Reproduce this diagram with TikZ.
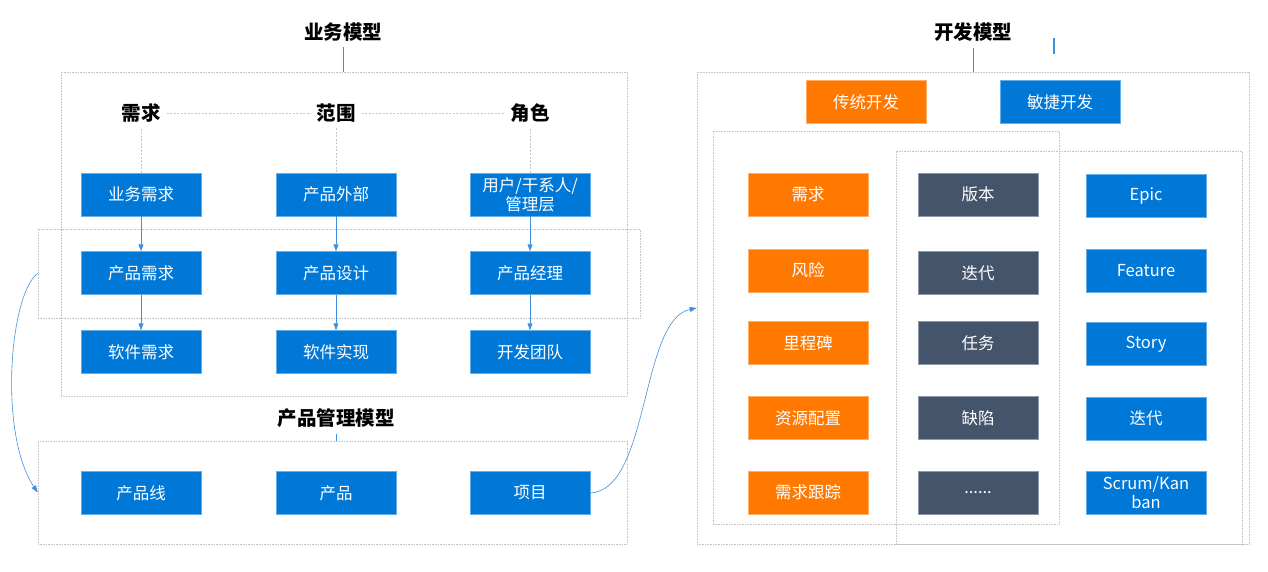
\documentclass[tikz,border=0pt]{standalone}
\usepackage{fontspec}
\setmainfont{Noto Sans CJK SC}
\usetikzlibrary{arrows.meta}
\definecolor{msblue}{HTML}{0078D7}
\definecolor{msorange}{HTML}{FF7800}
\definecolor{msslate}{HTML}{44546A}
\definecolor{frameg}{HTML}{C4C4C4}
\definecolor{linkblue}{HTML}{3F8FE0}
\tikzset{
    card/.style={minimum width=120pt, minimum height=43pt, inner sep=1pt, align=center,
        text=white, line width=.5pt, font=\fontsize{16.5}{19}\selectfont},
    bluecard/.style={card, fill=msblue, draw=msblue!60!white},
    orangecard/.style={card, fill=msorange, draw=msorange!60!white},
    slatecard/.style={card, fill=msslate, draw=msslate!60!white},
    head/.style={inner sep=6pt, font=\bfseries\fontsize{19.5}{22}\selectfont},
    frame/.style={draw=frameg, densely dotted, line width=.6pt, inner sep=0pt},
    guide/.style={draw=frameg, dash pattern=on 2pt off 1.5pt, line width=.5pt},
    tick/.style={draw=linkblue, line width=.6pt},
    flow/.style={draw=linkblue, line width=.6pt, -{Triangle[length=7pt,width=5pt]}}
}
\begin{document}
\begin{tikzpicture}[x=1pt,y=-1pt]
    \useasboundingbox (0,0) rectangle (1268,571);
    % frames
    \node[frame, minimum width=566pt, minimum height=324pt] (bizframe) at (344,234) {};
    \node[frame, minimum width=602pt, minimum height=89pt] (band) at (339,273.5) {};
    \node[frame, minimum width=589pt, minimum height=103pt] (pmframe) at (332.5,492.5) {};
    \node[frame, minimum width=552pt, minimum height=472pt] (devframe) at (973,308) {};
    \node[frame, minimum width=346pt, minimum height=393pt] (tradframe) at (886,327.5) {};
    \node[frame, minimum width=346pt, minimum height=393pt] (agileframe) at (1069,347.5) {};

    % 业务模型
    \node[head] (ywmx) at (343,32) {业务模型};
    \draw[tick] (ywmx.south) -- (ywmx.south |- bizframe.north);
    \node[head] (h1) at (141,113) {需求};
    \node[head] (h2) at (336,113) {范围};
    \node[head] (h3) at (530,113) {角色};
    \draw[guide] (h1) -- (h2);
    \draw[guide] (h2) -- (h3);

    \node[bluecard] (a1) at (141,194.5) {业务需求};
    \node[bluecard] (a2) at (336,194.5) {产品外部};
    \node[bluecard] (a3) at (530,194.5) {用户/干系人/\\管理层};
    \node[bluecard] (b1) at (141,273) {产品需求};
    \node[bluecard] (b2) at (336,273) {产品设计};
    \node[bluecard] (b3) at (530,273) {产品经理};
    \node[bluecard] (c1) at (141,352) {软件需求};
    \node[bluecard] (c2) at (336,352) {软件实现};
    \node[bluecard] (c3) at (530,352) {开发团队};
    \foreach \i in {1,2,3} {
        \draw[guide] (h\i) -- (a\i);
        \draw[flow] (a\i) -- (b\i);
        \draw[flow] (b\i) -- (c\i);
    }

    % 产品管理模型
    \node[head] (cpglmx) at (336,418) {产品管理模型};
    \draw[tick] (cpglmx.south) -- (cpglmx.south |- pmframe.north);
    \node[bluecard] (d1) at (141,493) {产品线};
    \node[bluecard] (d2) at (336,493) {产品};
    \node[bluecard] (d3) at (530,493) {项目};

    \draw[flow] (band.west) .. controls (10,293) and (-2,433) .. (pmframe.west);
    \draw[flow] (d3.east) .. controls (650,490) and (640,320) .. (devframe.west);

    % 开发模型
    \node[head] (kfmx) at (973,32) {开发模型};
    \draw[tick] (kfmx.south) -- (kfmx.south |- devframe.north);
    \draw[tick, line width=1.2pt] (1054,38) -- (1054,54);
    \node[orangecard] (ct) at (866,102) {传统开发};
    \node[bluecard] (mj) at (1060,102) {敏捷开发};

    \node[orangecard] (o1) at (808,194.5) {需求};
    \node[orangecard] (o2) at (808,270.5) {风险};
    \node[orangecard] (o3) at (808,343) {里程碑};
    \node[orangecard] (o4) at (808,418) {资源配置};
    \node[orangecard] (o5) at (808,492.5) {需求跟踪};

    \node[slatecard] (s1) at (978,194.5) {版本};
    \node[slatecard] (s2) at (978,273) {迭代};
    \node[slatecard] (s3) at (978,343) {任务};
    \node[slatecard] (s4) at (978,418) {缺陷};
    \node[slatecard] (s5) at (978,492.5) {......};

    \node[bluecard] (g1) at (1146,195.5) {Epic};
    \node[bluecard] (g2) at (1146,270.5) {Feature};
    \node[bluecard] (g3) at (1146,344) {Story};
    \node[bluecard] (g4) at (1146,418.5) {迭代};
    \node[bluecard] (g5) at (1146,493) {Scrum/Kan\\ban};
\end{tikzpicture}
\end{document}
